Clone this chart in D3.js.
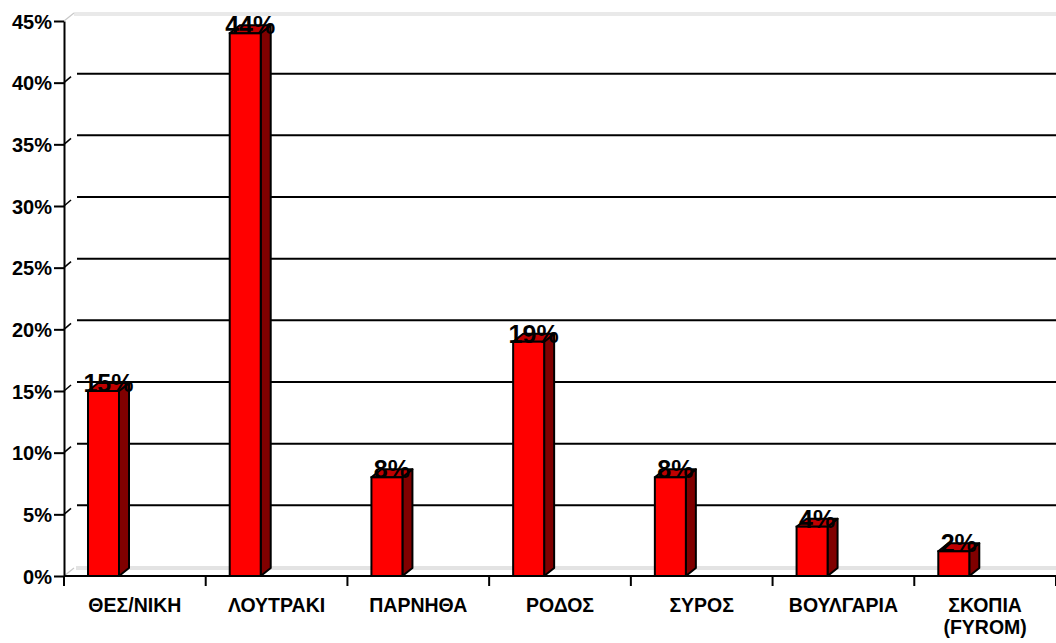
<!DOCTYPE html>
<html>
<head>
<meta charset="utf-8">
<script src="https://cdn.jsdelivr.net/npm/d3@7"></script>
<style>
  body { margin: 0; background: #fff; }
  text { font-family: "Liberation Sans", Arial, sans-serif; font-weight: bold; fill: #000; }
</style>
</head>
<body>
<script>
// chart data
var categories = ["ΘΕΣ/ΝΙΚΗ", "ΛΟΥΤΡΑΚΙ", "ΠΑΡΝΗΘΑ", "ΡΟΔΟΣ", "ΣΥΡΟΣ", "ΒΟΥΛΓΑΡΙΑ", "ΣΚΟΠΙΑ\n(FYROM)"];
var values = [0.15, 0.44, 0.08, 0.19, 0.08, 0.04, 0.02];
var yTicks = [0, 0.05, 0.10, 0.15, 0.20, 0.25, 0.30, 0.35, 0.40, 0.45];

var w = 1056, h = 643;
var plotLeft = 64, plotRight = 1056, plotBottom = 576, plotTop = 21;
var depthX = 10, depthY = 8;   // 3d offset of bars
var wallX = 12, wallY = 8;     // offset of the back wall
var barW = 31;

var svg = d3.select("body").append("svg")
    .attr("width", w)
    .attr("height", h);

var x = d3.scaleBand()
    .domain(categories)
    .range([plotLeft, plotRight])
    .padding(0);

var y = d3.scaleLinear()
    .domain([0, 0.45])
    .range([plotBottom, plotTop]);

var fmt = d3.format(".0%");

// back wall top + floor (grey double lines)
[0, 2].forEach(function(o){
    svg.append("line")
        .attr("x1", plotLeft + wallX - 2).attr("x2", plotRight)
        .attr("y1", y(0.45) - wallY + o).attr("y2", y(0.45) - wallY + o)
        .style("stroke", "#d4d4d4").style("stroke-width", 1.2);
    svg.append("line")
        .attr("x1", plotLeft + wallX).attr("x2", plotRight)
        .attr("y1", y(0) - wallY - 1 + o).attr("y2", y(0) - wallY - 1 + o)
        .style("stroke", "#c8c8c8").style("stroke-width", 1.2);
});
svg.append("line")
    .attr("x1", plotLeft).attr("y1", y(0.45))
    .attr("x2", plotLeft + wallX - 2).attr("y2", y(0.45) - wallY)
    .style("stroke", "#c8c8c8").style("stroke-width", 1.2);
svg.append("line")
    .attr("x1", plotLeft).attr("y1", y(0))
    .attr("x2", plotLeft + wallX - 2).attr("y2", y(0) - wallY)
    .style("stroke", "#c8c8c8").style("stroke-width", 1.2);

// gridlines on the back wall
var grid = svg.selectAll(".grid")
    .data(yTicks.filter(function(d){ return d > 0 && d < 0.45; }))
    .enter().append("g")
    .attr("class", "grid");

grid.append("line")
    .attr("x1", plotLeft + wallX + 1).attr("x2", plotRight)
    .attr("y1", function(d){ return y(d) - wallY - 1; })
    .attr("y2", function(d){ return y(d) - wallY - 1; })
    .style("stroke", "#000").style("stroke-width", 2);

grid.append("line")
    .attr("x1", plotLeft).attr("y1", function(d){ return y(d); })
    .attr("x2", plotLeft + 7).attr("y2", function(d){ return y(d) - 6; })
    .style("stroke", "#000").style("stroke-width", 1.5);

// y axis
var yAxis = d3.axisLeft(y)
    .tickValues(yTicks)
    .tickFormat(fmt)
    .tickSize(10)
    .tickSizeOuter(0)
    .tickPadding(2);

var gy = svg.append("g")
    .attr("transform", "translate(" + plotLeft + ",0)")
    .call(yAxis);
gy.select(".domain").style("stroke", "#000").style("stroke-width", 2);
gy.selectAll(".tick line").style("stroke", "#000").style("stroke-width", 2);
gy.selectAll(".tick text")
    .style("font-size", "20px")
    .style("font-family", "'Liberation Sans', Arial, sans-serif")
    .style("font-weight", "bold")
    .attr("dy", "0.35em");

// x axis line and ticks at category boundaries
svg.append("line")
    .attr("x1", plotLeft).attr("x2", plotRight)
    .attr("y1", plotBottom).attr("y2", plotBottom)
    .style("stroke", "#000").style("stroke-width", 2);

var bounds = categories.map(function(c){ return x(c); }).concat([plotRight]);
svg.selectAll(".xtick")
    .data(bounds)
    .enter().append("line")
    .attr("class", "xtick")
    .attr("x1", function(d){ return d; }).attr("x2", function(d){ return d; })
    .attr("y1", plotBottom).attr("y2", plotBottom + 10)
    .style("stroke", "#000").style("stroke-width", 2);

var xl = svg.selectAll(".xlabel")
    .data(categories)
    .enter().append("text")
    .attr("class", "xlabel")
    .attr("text-anchor", "middle")
    .attr("y", 612)
    .style("font-size", "19.5px");

xl.selectAll("tspan")
    .data(function(d){ return d.split("\n").map(function(s){ return {c: d, s: s}; }); })
    .enter().append("tspan")
    .attr("x", function(d){ return x(d.c) + x.bandwidth() / 2; })
    .attr("dy", function(d, i){ return i === 0 ? 0 : 22; })
    .text(function(d){ return d.s; });

// 3d bars
var bars = svg.selectAll(".bar")
    .data(values)
    .enter().append("g")
    .attr("class", "bar");

function bx(i){ return x(categories[i]) + 24; }

// side face
bars.append("path")
    .attr("d", function(d, i){
        var x0 = bx(i) + barW, yt = y(d), yb = y(0);
        return "M" + x0 + "," + yb + "L" + (x0 + depthX) + "," + (yb - depthY) +
            "L" + (x0 + depthX) + "," + (yt - depthY) + "L" + x0 + "," + yt + "Z";
    })
    .style("fill", "#800000")
    .style("stroke", "#000").style("stroke-width", 2).style("stroke-linejoin", "round");

// top face
bars.append("path")
    .attr("d", function(d, i){
        var x0 = bx(i), yt = y(d);
        return "M" + x0 + "," + yt + "L" + (x0 + depthX) + "," + (yt - depthY) +
            "L" + (x0 + barW + depthX) + "," + (yt - depthY) + "L" + (x0 + barW) + "," + yt + "Z";
    })
    .style("fill", "#c00000")
    .style("stroke", "#000").style("stroke-width", 2).style("stroke-linejoin", "round");

// front face
bars.append("rect")
    .attr("x", function(d, i){ return bx(i); })
    .attr("y", function(d){ return y(d); })
    .attr("width", barW)
    .attr("height", function(d){ return y(0) - y(d); })
    .style("fill", "#ff0000")
    .style("stroke", "#000").style("stroke-width", 2);

// value labels
svg.selectAll(".vlabel")
    .data(values)
    .enter().append("text")
    .attr("class", "vlabel")
    .attr("text-anchor", "middle")
    .attr("x", function(d, i){ return bx(i) + (barW + depthX) / 2; })
    .attr("y", function(d){ return y(d) + 1; })
    .style("font-size", "25px")
    .text(function(d){ return fmt(d); });
</script>
</body>
</html>
